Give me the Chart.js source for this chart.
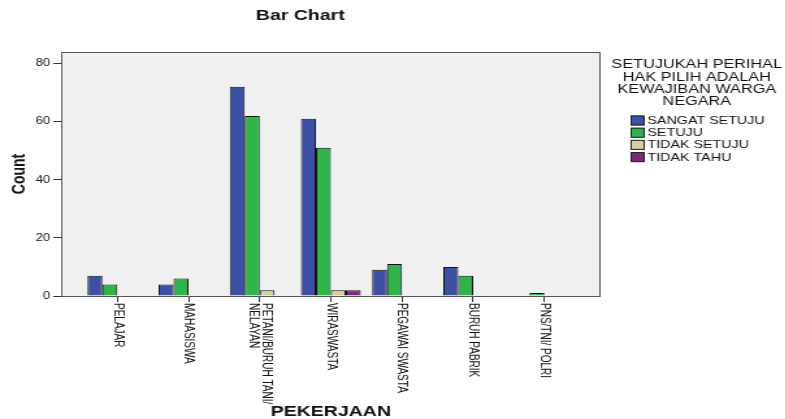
<!DOCTYPE html>
<html>
<head>
<meta charset="utf-8">
<script src="https://cdn.jsdelivr.net/npm/chart.js@4/dist/chart.umd.min.js"></script>
<style>
  html, body { margin: 0; padding: 0; background: #fff; overflow: hidden; }
  /* the source picture is stretched sideways, so the chart is too */
  #wrap { width: 604px; height: 419px; transform: scaleX(1.3); transform-origin: 0 0; }
</style>
</head>
<body>
<div id="wrap"><canvas id="chart" width="604" height="419"></canvas></div>
<script>
const categories = ['PELAJAR', 'MAHASISWA', ['PETANI/BURUH TANI/', 'NELAYAN'], 'WIRASWASTA',
                    'PEGAWAI SWASTA', 'BURUH PABRIK', 'PNS/TNI/ POLRI'];
const seriesNames = ['SANGAT SETUJU', 'SETUJU', 'TIDAK SETUJU', 'TIDAK TAHU'];
const sangatSetuju = [7, 4, 72, 61, 9, 10, 0];
const setuju = [4, 6, 62, 51, 11, 7, 1];
const tidakSetuju = [0, 0, 2, 2, 0, 0, 0];
const tidakTahu = [0, 0, 0, 2, 0, 0, 0];
const yTicks = [0, 20, 40, 60, 80];
const legendTitle = ['SETUJUKAH PERIHAL', 'HAK PILIH ADALAH', 'KEWAJIBAN WARGA', 'NEGARA'];

const colors = ['#3c51a3', '#2fb44b', '#d8cf9e', '#7c2a7e'];
const allSeries = [sangatSetuju, setuju, tidakSetuju, tidakTahu];

const datasets = allSeries.map((vals, s) => ({
    label: seriesNames[s],
    data: vals.map((v, i) => ({ x: i, y: v })),
    backgroundColor: colors[s],
    borderColor: '#111',
    borderWidth: 1
}));

// grey plot area, frame, rotated category labels and the legend
const spssLook = {
    id: 'spssLook',
    beforeDatasetsDraw(chart) {
        const { ctx, chartArea: a } = chart;
        ctx.save();
        ctx.fillStyle = '#f0f0f0';
        ctx.fillRect(a.left, a.top, a.right - a.left, a.bottom - a.top);
        ctx.restore();
    },
    afterDraw(chart) {
        const { ctx, chartArea: a } = chart;
        const xs = chart.scales.x;
        ctx.save();
        ctx.strokeStyle = '#555';
        ctx.lineWidth = 1;
        ctx.strokeRect(a.left + 0.5, a.top + 0.5, a.right - a.left - 1, a.bottom - a.top);

        // category labels, turned clockwise
        ctx.fillStyle = '#111';
        ctx.font = '10px "Liberation Sans", Arial, sans-serif';
        ctx.textAlign = 'left';
        ctx.textBaseline = 'middle';
        const lh = 10.5;
        categories.forEach((c, i) => {
            const lines = Array.isArray(c) ? c : [c];
            const px = xs.getPixelForValue(i);
            ctx.save();
            ctx.translate(px, a.bottom + 7);
            ctx.rotate(Math.PI / 2);
            lines.forEach((t, k) => {
                ctx.fillText(t, 0, -((lines.length - 1) / 2 - k) * lh);
            });
            ctx.restore();
        });

        // legend
        ctx.textAlign = 'center';
        ctx.font = '12.5px "Liberation Sans", Arial, sans-serif';
        legendTitle.forEach((t, k) => ctx.fillText(t, 536, 65 + k * 12.3));
        ctx.textAlign = 'left';
        ctx.font = '11px "Liberation Sans", Arial, sans-serif';
        chart.data.datasets.forEach((d, k) => {
            const cy = 120.5 + k * 12.2;
            ctx.fillStyle = d.backgroundColor;
            ctx.fillRect(485, cy - 5, 10.5, 10);
            ctx.strokeStyle = '#222';
            ctx.strokeRect(485.5, cy - 4.5, 10, 9);
            ctx.fillStyle = '#111';
            ctx.fillText(d.label, 498, cy + 0.5);
        });
        ctx.restore();
    }
};

new Chart(document.getElementById('chart'), {
    type: 'bar',
    data: { datasets: datasets },
    plugins: [spssLook],
    options: {
        responsive: false,
        animation: false,
        devicePixelRatio: 1,
        layout: { padding: { left: 0, right: 142, top: 0, bottom: 0 } },
        datasets: { bar: { categoryPercentage: 0.84, barPercentage: 1 } },
        plugins: {
            legend: { display: false },
            tooltip: { enabled: false },
            title: {
                display: true,
                text: 'Bar Chart',
                color: '#111',
                font: { family: '"Liberation Sans", Arial, sans-serif', size: 15, weight: 'bold', lineHeight: 1.2 },
                padding: { top: 7, bottom: 27 }
            }
        },
        scales: {
            x: {
                type: 'linear',
                offset: false,
                min: -0.79,
                max: 6.79,
                afterBuildTicks: s => { s.ticks = categories.map((c, i) => ({ value: i })); },
                afterFit: s => { s.height = 123; },
                ticks: { display: false },
                grid: { display: true, offset: false, drawOnChartArea: false, drawTicks: true, tickLength: 6, color: '#333' },
                border: { display: false },
                title: {
                    display: true,
                    text: 'PEKERJAAN',
                    color: '#111',
                    font: { family: '"Liberation Sans", Arial, sans-serif', size: 15, weight: 'bold', lineHeight: 1 },
                    padding: { top: 0, bottom: 0 }
                }
            },
            y: {
                min: 0,
                max: 84,
                afterBuildTicks: s => { s.ticks = yTicks.map(v => ({ value: v })); },
                afterFit: s => { s.width = 47; },
                ticks: {
                    color: '#111',
                    padding: 2.5,
                    font: { family: '"Liberation Sans", Arial, sans-serif', size: 10 }
                },
                grid: { display: true, drawOnChartArea: false, drawTicks: true, tickLength: 6, color: '#333' },
                border: { display: false },
                title: {
                    display: true,
                    text: 'Count',
                    color: '#111',
                    font: { family: '"Liberation Sans", Arial, sans-serif', size: 14, weight: 'bold', lineHeight: 1 },
                    padding: { top: 8, bottom: 0 }
                }
            }
        }
    }
});
</script>
</body>
</html>
